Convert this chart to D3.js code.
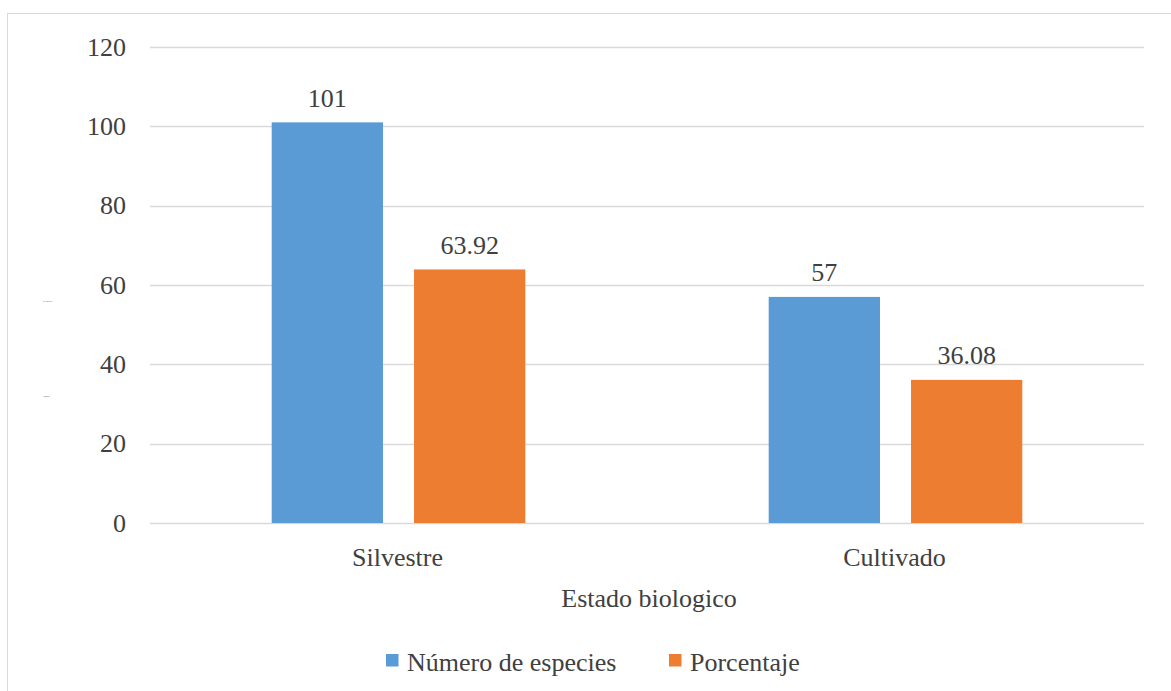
<!DOCTYPE html>
<html>
<head>
<meta charset="utf-8">
<script src="https://cdn.jsdelivr.net/npm/d3@7"></script>
<style>
  html, body { margin: 0; padding: 0; background: #fff; }
  svg { display: block; }
</style>
</head>
<body>
<svg id="chart" width="1171" height="691"></svg>
<script>
// Chart data
const categories = ["Silvestre", "Cultivado"];
const seriesNames = ["Número de especies", "Porcentaje"];
const especies = [101, 57];
const porcentaje = [63.92, 36.08];
const yTicks = [0, 20, 40, 60, 80, 100, 120];
const seriesColors = ["#5B9BD5", "#ED7D31"];

const FONT = "'Liberation Serif', serif";
const TEXT = "#404040";
const SIZE = 26;

const svg = d3.select("#chart");
const W = 1171, H = 691;

// Outer chart frame
svg.append("rect")
  .attr("x", 7.5).attr("y", 13.5)
  .attr("width", W + 10).attr("height", H + 10)
  .attr("fill", "#fff").attr("stroke", "#D9D9D9").attr("stroke-width", 1);

const plot = { left: 150, right: 1144, top: 47, bottom: 523 };

const x = d3.scaleBand()
  .domain(categories)
  .range([plot.left, plot.right])
  .paddingInner(0).paddingOuter(0);

const inner = d3.scaleBand()
  .domain(seriesNames)
  .range([0, x.bandwidth()])
  .paddingInner(0.218)
  .paddingOuter(0.855);

const y = d3.scaleLinear().domain([0, 120]).range([plot.bottom, plot.top]);

// Shared text styling
function label(sel, size) {
  return sel.attr("font-size", size)
    .attr("fill", TEXT)
    .attr("font-family", FONT)
    .style("font-family", FONT);
}

// Horizontal gridlines
svg.append("g")
  .selectAll("line")
  .data(yTicks)
  .join("line")
  .attr("x1", plot.left).attr("x2", plot.right)
  .attr("y1", d => Math.round(y(d)) + 0.5)
  .attr("y2", d => Math.round(y(d)) + 0.5)
  .attr("stroke", "#D9D9D9").attr("stroke-width", 1.5);

// Y tick labels
svg.append("g")
  .selectAll("text")
  .data(yTicks)
  .join("text")
  .attr("x", 126)
  .attr("y", d => y(d))
  .attr("dy", "0.33em")
  .attr("text-anchor", "end")
  .call(label, SIZE)
  .text(d => d);

// Bars
const rows = categories.map((c, i) => ({ cat: c, values: [especies[i], porcentaje[i]] }));
const groups = svg.append("g")
  .selectAll("g")
  .data(rows)
  .join("g")
  .attr("transform", d => `translate(${x(d.cat)},0)`);

groups.selectAll("rect")
  .data(d => d.values.map((v, j) => ({ name: seriesNames[j], v, j })))
  .join("rect")
  .attr("x", d => inner(d.name))
  .attr("width", inner.bandwidth())
  .attr("y", d => y(d.v))
  .attr("height", d => y(0) - y(d.v))
  .attr("fill", d => seriesColors[d.j]);

// Value labels
groups.selectAll("text")
  .data(d => d.values.map((v, j) => ({ name: seriesNames[j], v, j })))
  .join("text")
  .attr("x", d => inner(d.name) + inner.bandwidth() / 2)
  .attr("y", d => y(d.v) - 15.5)
  .attr("text-anchor", "middle")
  .call(label, SIZE)
  .text(d => d.v);

// Category labels
svg.append("g")
  .selectAll("text")
  .data(categories)
  .join("text")
  .attr("x", d => x(d) + x.bandwidth() / 2 - 1)
  .attr("y", 566)
  .attr("text-anchor", "middle")
  .call(label, SIZE)
  .text(d => d);

// X axis title
svg.append("text")
  .attr("x", (plot.left + plot.right) / 2 + 2)
  .attr("y", 607)
  .attr("text-anchor", "middle")
  .call(label, SIZE)
  .text("Estado biologico");

// Collapsed y-axis title fragments
svg.append("text").attr("x", 43).attr("y", 302).call(label, 2).text("de especies");
svg.append("text").attr("x", 43).attr("y", 397).call(label, 2).text("Número");

// Legend
const legendItems = [
  { name: seriesNames[0], color: seriesColors[0], x: 386 },
  { name: seriesNames[1], color: seriesColors[1], x: 669 }
];
const lg = svg.append("g")
  .selectAll("g")
  .data(legendItems)
  .join("g")
  .attr("transform", d => `translate(${d.x},654)`);
lg.append("rect").attr("width", 12.5).attr("height", 12.5).attr("fill", d => d.color);
lg.append("text")
  .attr("x", 21).attr("y", 17)
  .call(label, SIZE)
  .text(d => d.name);
</script>
</body>
</html>
